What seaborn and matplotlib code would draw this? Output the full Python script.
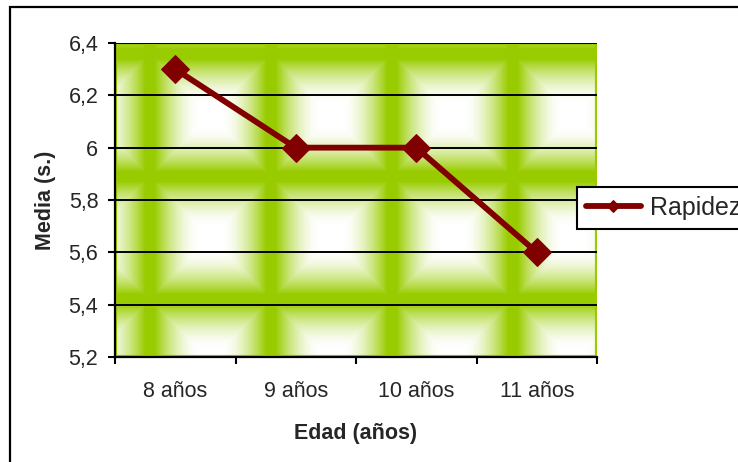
import numpy as np
import pandas as pd
import seaborn as sns
import matplotlib.pyplot as plt
from matplotlib.patches import Rectangle

# datos del gráfico
edades = ["8 años", "9 años", "10 años", "11 años"]
rapidez = [6.3, 6.0, 6.0, 5.6]
y_ticks = [5.2, 5.4, 5.6, 5.8, 6.0, 6.2, 6.4]
y_tick_labels = ["5,2", "5,4", "5,6", "5,8", "6", "6,2", "6,4"]

VERDE = "#99CC00"
GRANATE = "#800000"


# fondo con degradado en mosaico (estilo Excel "desde el centro")
def fondo_degradado(w=482, h=314, x0=115, y0=43):
    xs = x0 + np.arange(w) + 0.5
    ys = y0 + np.arange(h) + 0.5
    u = ((xs - 150) % 121) / 121
    v = ((ys - 54) % 122.5) / 122.5
    du = np.abs(u - 0.5) * 2
    dv = np.abs(v - 0.5) * 2
    d = np.maximum(du[None, :], dv[:, None])
    t = np.clip((d - 0.2) / 0.72, 0, 1) ** 1.7
    blanco = np.array([1.0, 1.0, 1.0])
    verde = np.array([153, 204, 0]) / 255
    return blanco + (verde - blanco) * t[..., None]


def grafico():
    sns.set_style("white")
    plt.rcParams["font.family"] = ["Liberation Sans", "DejaVu Sans"]

    fig = plt.figure(figsize=(7.38, 4.62), dpi=100)
    ax = fig.add_axes([115 / 738, 105 / 462, 482 / 738, 314 / 462])

    ax.imshow(fondo_degradado(), extent=[0, 1, 0, 1], transform=ax.transAxes,
              aspect="auto", zorder=0, interpolation="bilinear")
    ax.add_patch(Rectangle((0, 0), 1, 1, transform=ax.transAxes, fill=False,
                           ec=VERDE, lw=3, zorder=0.3))

    df = pd.DataFrame({"Edad": edades, "Media": rapidez})
    sns.lineplot(data=df, x="Edad", y="Media", ax=ax, color=GRANATE,
                 linewidth=4.2, marker="D", markersize=14,
                 markeredgecolor=GRANATE, label="Rapidez", zorder=3)

    ax.set_xlim(-0.5, 3.5)
    ax.set_ylim(5.2, 6.4)
    ax.set_yticks(y_ticks)
    ax.set_yticklabels(y_tick_labels)
    ax.set_xticks(range(len(edades)))
    ax.set_xticklabels(edades)
    ax.set_xticks(np.arange(-0.5, 4, 1), minor=True)

    ax.set_axisbelow(True)
    ax.grid(axis="y", color="black", linewidth=1.4, zorder=0.5)
    ax.grid(axis="x", visible=False)

    for lado in ["top", "right"]:
        ax.spines[lado].set_visible(False)
    for lado in ["left", "bottom"]:
        ax.spines[lado].set_color("black")
        ax.spines[lado].set_linewidth(1.6)
        ax.spines[lado].set_zorder(4)

    ax.tick_params(axis="y", which="major", direction="out", length=5,
                   width=1.5, color="black", labelsize=15.5, pad=7, left=True)
    ax.tick_params(axis="x", which="major", length=0, labelsize=15.5, pad=17)
    ax.tick_params(axis="x", which="minor", direction="out", length=5,
                   width=1.5, color="black", bottom=True)

    ax.set_xlabel("Edad (años)", fontsize=15.5, fontweight="bold")
    ax.set_ylabel("Media (s.)", fontsize=15.5, fontweight="bold")
    ax.xaxis.set_label_coords(0.5, -0.21)
    ax.yaxis.set_label_coords(-0.122, 0.5)

    ax.get_legend().remove()
    h, l = ax.get_legend_handles_labels()
    leg = fig.legend(h, l, loc="upper left", bbox_to_anchor=(577 / 738, 1 - 187 / 462),
                     borderaxespad=0, fontsize=18, frameon=True, fancybox=False,
                     framealpha=1, edgecolor="black", handlelength=2.2,
                     handletextpad=0.35, borderpad=0.35)
    leg.get_frame().set_linewidth(1.5)
    for lh in leg.legend_handles:
        lh.set_markersize(6.5)
        lh.set_linewidth(4.2)

    # borde exterior del gráfico
    fig.add_artist(Rectangle((10 / 738, -0.1), 1.2, 1.1 - 7 / 462,
                             transform=fig.transFigure, fill=False,
                             ec="black", lw=1.6))

    fig.savefig("out.png", dpi=100)


if __name__ == "__main__":
    grafico()
